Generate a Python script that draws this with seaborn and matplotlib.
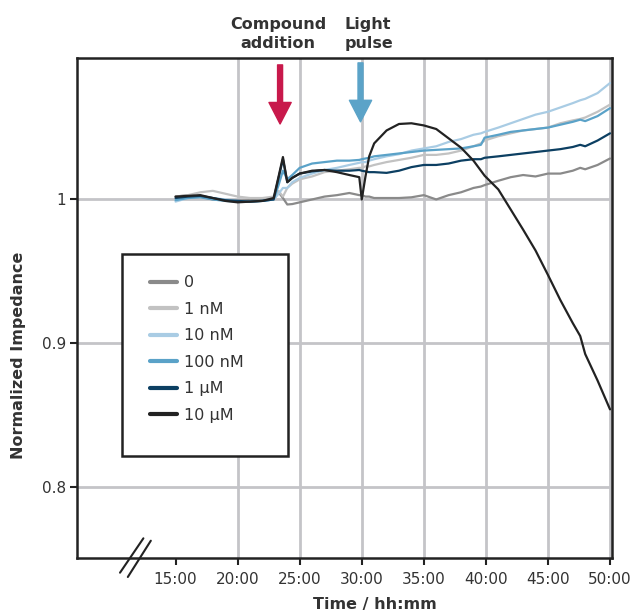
import numpy as np
import pandas as pd
import matplotlib
matplotlib.use("Agg")
import matplotlib.pyplot as plt
import seaborn as sns
from matplotlib.patches import Rectangle
from matplotlib.lines import Line2D

# ---------------- data ----------------
time = [15, 16, 17, 18, 19, 20, 21, 22, 22.9, 23.3, 23.65, 24.0, 24.4, 25, 26, 27, 28, 29,
        29.8, 30.0, 30.3, 30.6, 31, 32, 33, 34, 35, 36, 37, 38, 39, 39.6, 39.9, 41, 42, 43,
        44, 45, 46, 47, 47.6, 48, 49, 50]

conc_0 = [1.002, 1.003, 1.002, 1.000, 0.9995, 0.9993, 0.9995, 0.9997, 1.000, 1.005, 1.001,
          0.9965, 0.9968, 0.998, 1.000, 1.002, 1.003, 1.0045, 1.003, 1.003, 1.002, 1.002,
          1.001, 1.001, 1.001, 1.0015, 1.003, 1.000, 1.003, 1.005, 1.008, 1.009, 1.010,
          1.013, 1.0155, 1.017, 1.016, 1.018, 1.018, 1.020, 1.022, 1.021, 1.024, 1.0285]

conc_1nM = [1.002, 1.003, 1.005, 1.006, 1.004, 1.002, 1.001, 1.001, 1.002, 1.006, 1.002,
            1.008, 1.011, 1.014, 1.016, 1.019, 1.020, 1.021, 1.022, 1.022, 1.023, 1.023,
            1.024, 1.026, 1.0275, 1.029, 1.031, 1.031, 1.032, 1.034, 1.037, 1.039, 1.041,
            1.044, 1.046, 1.048, 1.049, 1.050, 1.053, 1.055, 1.056, 1.057, 1.061, 1.066]

conc_10nM = [0.9985, 1.001, 1.002, 1.001, 1.000, 0.999, 0.9985, 0.999, 1.000, 1.004, 1.008,
             1.008, 1.012, 1.015, 1.018, 1.0205, 1.022, 1.024, 1.0255, 1.026, 1.026, 1.027,
             1.028, 1.030, 1.0315, 1.034, 1.0355, 1.037, 1.040, 1.042, 1.045, 1.046, 1.047,
             1.050, 1.053, 1.056, 1.059, 1.061, 1.064, 1.067, 1.069, 1.070, 1.074, 1.081]

conc_100nM = [0.9995, 1.001, 1.0015, 1.000, 0.999, 0.9985, 0.9985, 0.999, 1.000, 1.010, 1.020,
              1.014, 1.017, 1.022, 1.025, 1.026, 1.027, 1.027, 1.0275, 1.028, 1.0285, 1.029,
              1.030, 1.031, 1.032, 1.033, 1.034, 1.0345, 1.035, 1.0355, 1.037, 1.038, 1.043,
              1.045, 1.047, 1.048, 1.049, 1.050, 1.052, 1.054, 1.0555, 1.0545, 1.058, 1.0635]

conc_1uM = [1.001, 1.002, 1.0025, 1.001, 0.9995, 0.999, 0.9985, 0.999, 1.000, 1.015, 1.028,
            1.012, 1.015, 1.018, 1.0195, 1.0205, 1.020, 1.020, 1.0205, 1.020, 1.0195, 1.019,
            1.019, 1.0185, 1.020, 1.0225, 1.024, 1.024, 1.025, 1.027, 1.028, 1.028, 1.029,
            1.030, 1.031, 1.032, 1.033, 1.034, 1.035, 1.0365, 1.038, 1.037, 1.041, 1.046]

conc_10uM = [1.002, 1.0025, 1.003, 1.001, 0.999, 0.998, 0.9985, 0.999, 1.001, 1.016, 1.0295,
             1.012, 1.015, 1.018, 1.020, 1.0205, 1.019, 1.017, 1.0155, 1.000, 1.016, 1.030,
             1.039, 1.048, 1.0525, 1.053, 1.0515, 1.049, 1.0425, 1.036, 1.027, 1.020, 1.0165,
             1.007, 0.993, 0.979, 0.9645, 0.9475, 0.930, 0.914, 0.905, 0.8925, 0.874, 0.854]

series_labels = ["0", "1 nM", "10 nM", "100 nM", "1 µM", "10 µM"]
series_values = [conc_0, conc_1nM, conc_10nM, conc_100nM, conc_1uM, conc_10uM]
series_colors = ["#8a8a8a", "#c2c2c2", "#a9cce4", "#5aa2c8", "#0c3f62", "#222222"]

xtick_vals = [15, 20, 25, 30, 35, 40, 45, 50]
xtick_labels = ["15:00", "20:00", "25:00", "30:00", "35:00", "40:00", "45:00", "50:00"]
ytick_vals = [0.8, 0.9, 1.0]
ytick_labels = ["0.8", "0.9", "1"]

compound_time = 23.42
light_time = 29.9

# ---------------- build frame ----------------
rows = []
for lab, vals in zip(series_labels, series_values):
    for t, v in zip(time, vals):
        rows.append({"time": t, "value": v, "conc": lab})
df = pd.DataFrame(rows)

sns.set_style("white")
plt.rcParams["font.family"] = ["DejaVu Sans"]
TXT = "#333333"

fig = plt.figure(figsize=(6.41, 6.14), dpi=100)
ax = fig.add_axes([77 / 641, 1 - 558 / 614, (612 - 77) / 641, (558 - 58) / 614])

sns.lineplot(data=df, x="time", y="value", hue="conc", hue_order=series_labels,
             palette=dict(zip(series_labels, series_colors)), estimator=None,
             linewidth=1.6, ax=ax, legend=False, zorder=3)

ax.set_xlim(7.06, 50.16)
ax.set_ylim(0.7506, 1.0984)

ax.set_xticks(xtick_vals)
ax.set_xticklabels(xtick_labels)
ax.set_yticks(ytick_vals)
ax.set_yticklabels(ytick_labels)
ax.tick_params(axis="both", which="major", length=5, width=1.5, color="#222222",
               labelsize=11, labelcolor=TXT, direction="out")
ax.tick_params(axis="x", pad=5)
ax.tick_params(axis="y", pad=3)
ax.xaxis.set_ticks_position("bottom")
ax.yaxis.set_ticks_position("left")

ax.grid(True, color="#c4c4c8", linewidth=2.0, zorder=0)
ax.set_axisbelow(True)
ax.xaxis.get_gridlines()[0].set_visible(False)

for sp in ax.spines.values():
    sp.set_visible(True)
    sp.set_color("#222222")
    sp.set_linewidth(1.8)

ax.set_xlabel("Time / hh:mm", fontsize=11.5, fontweight="bold", color=TXT)
ax.xaxis.set_label_coords(0.557, -0.078)
ax.set_ylabel("Normalized Impedance", fontsize=11.5, fontweight="bold", color=TXT)
ax.yaxis.set_label_coords(-0.095, 0.406)

# legend box
ax.add_patch(Rectangle((0.084, 0.204), 0.31, 0.404, transform=ax.transAxes,
                       facecolor="white", edgecolor="#222222", linewidth=1.8, zorder=4))
handles = [Line2D([0], [0], color=c, linewidth=3.0) for c in series_colors]
leg = ax.legend(handles, series_labels, loc="upper left", bbox_to_anchor=(0.1215, 0.581),
                frameon=False, fontsize=11.5, borderpad=0, handlelength=1.7,
                handletextpad=0.45, labelspacing=0.72)
leg.set_zorder(5)
for t in leg.get_texts():
    t.set_color(TXT)

# arrows
ax.annotate("", xy=(compound_time, 1.0525), xytext=(compound_time, 1.0936),
            arrowprops=dict(arrowstyle="simple,head_width=1.6,head_length=1.55,tail_width=0.36",
                            mutation_scale=10, color="#c8194b", shrinkA=0, shrinkB=0), zorder=6)
ax.annotate("", xy=(light_time, 1.054), xytext=(light_time, 1.095),
            arrowprops=dict(arrowstyle="simple,head_width=1.6,head_length=1.55,tail_width=0.36",
                            mutation_scale=10, color="#5ba3c8", shrinkA=0, shrinkB=0), zorder=6)

fig.text(278 / 641, 1 - 34 / 614, "Compound\naddition", ha="center", va="center",
         fontsize=11.5, fontweight="bold", color=TXT, linespacing=1.35)
fig.text(345 / 641, 1 - 34 / 614, "Light\npulse", ha="left", va="center",
         fontsize=11.5, fontweight="bold", color=TXT, linespacing=1.35, multialignment="left")

# axis break marks
for (x0, y0, x1, y1) in [(0.0804, -0.0294, 0.1241, 0.0394), (0.095, -0.038, 0.138, 0.0346)]:
    ax.plot([x0, x1], [y0, y1], transform=ax.transAxes, color="#222222", lw=1.5,
            clip_on=False, zorder=7)

fig.savefig("out.png", dpi=100)
